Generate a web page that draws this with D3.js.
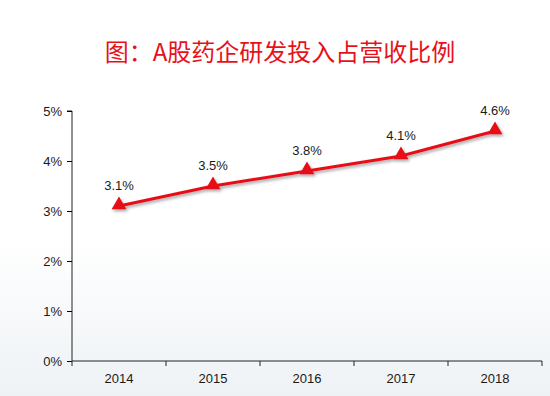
<!DOCTYPE html>
<html>
<head>
<meta charset="utf-8">
<script src="https://cdn.jsdelivr.net/npm/d3@7"></script>
<style>
  body { margin: 0; background: #fff; }
  text { font-family: "Liberation Sans", Arial, sans-serif; }
</style>
</head>
<body>
<div id="chart"></div>
<script>
// data
var years = ["2014", "2015", "2016", "2017", "2018"];
var ratio = [3.1, 3.5, 3.8, 4.1, 4.6];
var yTicks = [0, 1, 2, 3, 4, 5];

var svgWidth = 550, svgHeight = 396;
var margin = {top: 111, right: 8, bottom: 35, left: 72},
    width = svgWidth - margin.left - margin.right,
    height = svgHeight - margin.top - margin.bottom;

var root = d3.select("#chart").append("svg")
    .attr("width", svgWidth)
    .attr("height", svgHeight);

// faint background wash at the bottom
var defs = root.append("defs");
var grad = defs.append("linearGradient").attr("id", "bg").attr("x1", 0).attr("y1", 0).attr("x2", 0).attr("y2", 1);
grad.append("stop").attr("offset", "0%").attr("stop-color", "#fff");
grad.append("stop").attr("offset", "100%").attr("stop-color", "#eef2f5");
root.append("rect").attr("x", 0).attr("y", 240).attr("width", svgWidth).attr("height", 156).attr("fill", "url(#bg)");

var shadow = defs.append("filter").attr("id", "shadow").attr("x", "-20%").attr("y", "-20%").attr("width", "140%").attr("height", "160%");
shadow.append("feDropShadow").attr("dx", 1.5).attr("dy", 2).attr("stdDeviation", 1.5)
  .attr("flood-color", "#000").attr("flood-opacity", 0.35);

// title
root.append("text")
  .attr("x", 280).attr("y", 61)
  .attr("text-anchor", "middle")
  .style("font-family", "'Noto Sans CJK SC', sans-serif")
  .style("font-size", "24px")
  .style("font-weight", "400")
  .style("fill", "#e8111a")
  .text("图：A股药企研发投入占营收比例");

var svg = root.append("g")
  .attr("transform", "translate(" + margin.left + "," + margin.top + ")");

var x = d3.scaleBand().domain(years).range([0, width]);
var y = d3.scaleLinear().domain([0, 5]).range([height, 0]);

// y axis
var yAxis = svg.append("g")
  .call(d3.axisLeft(y).tickValues(yTicks).tickSize(5).tickPadding(5).tickFormat(function(d) { return d + "%"; }));
yAxis.select(".domain").attr("d", "M-5," + y(5) + "H0V" + height).attr("stroke", "#222");
yAxis.selectAll("text").style("font-size", "13px").style("fill", "#1a1a1a");

// x axis
var xTickPos = years.map(function(d) { return x(d); }).concat([width]);
var xAxis = svg.append("g")
  .attr("transform", "translate(0," + height + ")")
  .call(d3.axisBottom(x).tickSize(0).tickPadding(13));
xAxis.select(".domain").attr("d", "M0,0H" + width).attr("stroke", "#222");
xAxis.selectAll("text").style("font-size", "13px").style("fill", "#1a1a1a");
xAxis.selectAll(".sep").data(xTickPos).enter().append("line")
  .attr("x1", function(d) { return d; }).attr("x2", function(d) { return d; })
  .attr("y1", 0).attr("y2", 5).attr("stroke", "#222");

var cx = function(i) { return x(years[i]) + x.bandwidth() / 2; };

// line
var line = d3.line()
  .x(function(d, i) { return cx(i); })
  .y(function(d) { return y(d); });

var series = svg.append("g").attr("filter", "url(#shadow)");
series.append("path")
  .datum(ratio)
  .attr("d", line)
  .attr("fill", "none")
  .attr("stroke", "#e60e19")
  .attr("stroke-width", 3);

series.selectAll(".marker")
  .data(ratio)
  .enter().append("path")
  .attr("class", "marker")
  .attr("transform", function(d, i) { return "translate(" + cx(i) + "," + (y(d) - 1) + ")"; })
  .attr("d", d3.symbol().type(d3.symbolTriangle).size(95))
  .attr("fill", "#e60e19");

// labels
svg.selectAll(".lbl")
  .data(ratio)
  .enter().append("text")
  .attr("class", "lbl")
  .attr("x", function(d, i) { return cx(i); })
  .attr("y", function(d) { return y(d) - 16; })
  .attr("text-anchor", "middle")
  .style("font-size", "13px")
  .style("fill", "#1a1a1a")
  .text(function(d) { return d.toFixed(1) + "%"; });
</script>
</body>
</html>
